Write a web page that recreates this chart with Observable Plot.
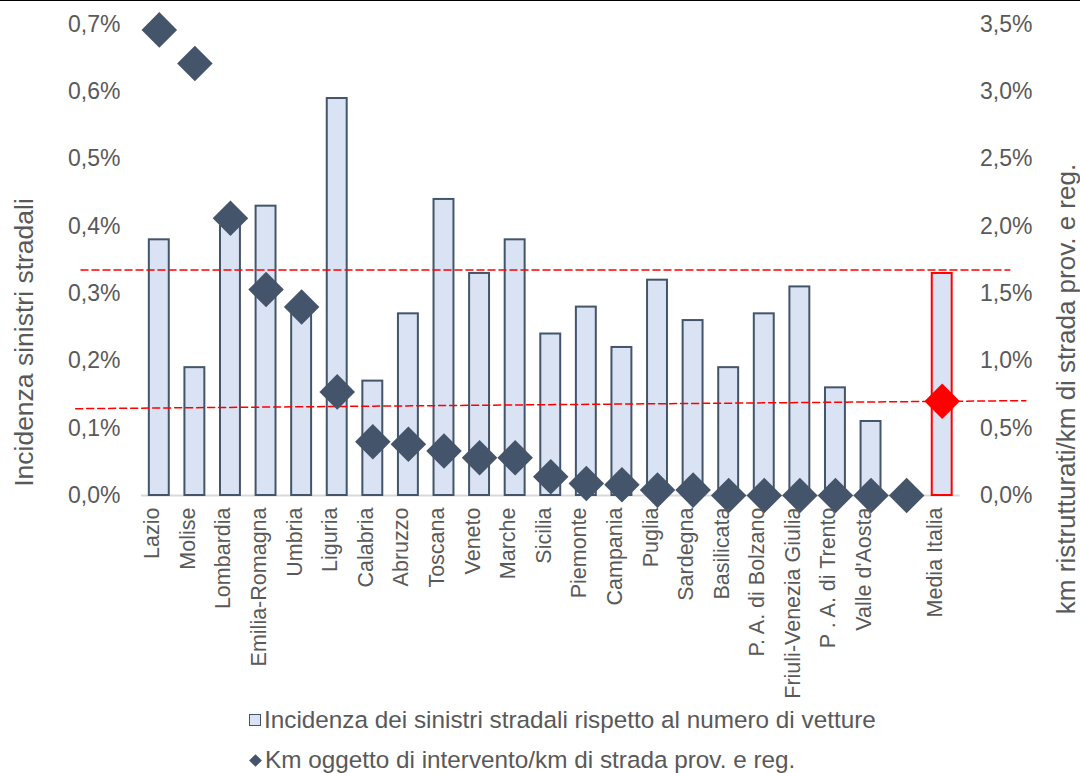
<!DOCTYPE html>
<html>
<head>
<meta charset="utf-8">
<script src="https://cdn.jsdelivr.net/npm/d3@7"></script>
<script src="https://cdn.jsdelivr.net/npm/@observablehq/plot@0.6"></script>
<style>
  body { margin: 0; background: #fff; font-family: "Liberation Sans", Arial, sans-serif; }
  #wrap { position: relative; width: 1080px; height: 773px; overflow: hidden; background: #fff; }
  #topline { position: absolute; left: 0; top: 0; width: 1080px; height: 1px; background: #000; z-index: 5; }
  .legend { position: absolute; left: 249px; height: 30px; line-height: 30px; color: #595959; font-size: 24.3px; display: flex; align-items: center; white-space: nowrap; }
  .sq { display: inline-block; width: 10px; height: 10px; background: #dae3f3; border: 1.5px solid #44546a; margin-right: 3px; }
  .dm { display: inline-block; width: 9px; height: 9px; background: #44546a; transform: rotate(45deg); margin: 0 5px 0 2px; }
</style>
</head>
<body>
<div id="wrap">
  <div id="topline"></div>
  <div id="chart"></div>
  <div class="legend" style="top:705px"><span class="sq"></span>Incidenza dei sinistri stradali rispetto al numero di vetture</div>
  <div class="legend" style="top:745px"><span class="dm"></span>Km oggetto di intervento/km di strada prov. e reg.</div>
</div>
<script>
// ---- data ----
const regions = ["Lazio", "Molise", "Lombardia", "Emilia-Romagna", "Umbria", "Liguria", "Calabria", "Abruzzo",
  "Toscana", "Veneto", "Marche", "Sicilia", "Piemonte", "Campania", "Puglia", "Sardegna", "Basilicata",
  "P. A. di Bolzano", "Friuli-Venezia Giulia", "P . A. di Trento", "Valle d'Aosta", "", "Media Italia"];
// left axis (%): incidenza dei sinistri stradali rispetto al numero di vetture
const incidenza = [0.38, 0.19, 0.40, 0.43, 0.28, 0.59, 0.17, 0.27, 0.44, 0.33, 0.38, 0.24, 0.28, 0.22,
  0.32, 0.26, 0.19, 0.27, 0.31, 0.16, 0.11, null, 0.33];
// right axis (%): km oggetto di intervento / km di strada prov. e reg.
const kmIntervento = [3.46, 3.21, 2.06, 1.53, 1.40, 0.77, 0.40, 0.38, 0.33, 0.28, 0.28, 0.14, 0.09, 0.08,
  0.04, 0.04, 0, 0, 0, 0, 0, 0, 0.70];
const highlight = "Media Italia";
const leftTicks = [0, 0.1, 0.2, 0.3, 0.4, 0.5, 0.6, 0.7];
const rightTicks = [0, 0.5, 1.0, 1.5, 2.0, 2.5, 3.0, 3.5];
// red dashed reference lines (x in category slots, y in axis %)
const refUpperX = [-2.2, 23.9];
const refUpperLeft = [0.335, 0.335];
const refLowerX = [-2.35, 24.35];
const refLowerRight = [0.645, 0.705];

// ---- build ----
const ratio = rightTicks[rightTicks.length - 1] / leftTicks[leftTicks.length - 1];
const fmt = v => v.toFixed(1).replace(".", ",") + "%";
const rows = regions.map((name, i) => ({ i, name, v: incidenza[i], k: kmIntervento[i] }));
const bars = rows.filter(d => d.v != null && d.name !== highlight);
const barsHi = rows.filter(d => d.v != null && d.name === highlight);
const dots = rows.filter(d => d.name !== highlight);
const dotsHi = rows.filter(d => d.name === highlight);
const upper = refUpperX.map((x, j) => ({ x, y: refUpperLeft[j] }));
const lower = refLowerX.map((x, j) => ({ x, y: refLowerRight[j] / ratio }));
const half = 0.28;
const grey = "#595959";

const chart = Plot.plot({
  width: 1080,
  height: 705,
  marginTop: 24,
  marginBottom: 210,
  marginLeft: 141,
  marginRight: 120.5,
  x: { type: "linear", domain: [-0.5, regions.length - 0.5], axis: null },
  y: { domain: [0, leftTicks[leftTicks.length - 1]], axis: null },
  style: { fontFamily: "'Liberation Sans', Arial, sans-serif", color: grey, background: "transparent", overflow: "visible" },
  marks: [
    Plot.ruleY([0], { stroke: "#d9d9d9", strokeWidth: 2 }),
    Plot.rectY(bars, { x1: d => d.i - half, x2: d => d.i + half, y1: 0, y2: "v", fill: "#dae3f3", stroke: "#44546a", strokeWidth: 2 }),
    Plot.rectY(barsHi, { x1: d => d.i - half, x2: d => d.i + half, y1: 0, y2: "v", fill: "#dae3f3", stroke: "#ff0000", strokeWidth: 2 }),
    Plot.line(upper, { x: "x", y: "y", stroke: "#ff0000", strokeWidth: 1.5, strokeDasharray: "7,4" }),
    Plot.line(lower, { x: "x", y: "y", stroke: "#ff0000", strokeWidth: 1.5, strokeDasharray: "7,4" }),
    Plot.dot(dots, { x: "i", y: d => d.k / ratio, symbol: "diamond2", r: 16, fill: "#44546a", stroke: null }),
    Plot.dot(dotsHi, { x: "i", y: d => d.k / ratio, symbol: "diamond2", r: 16, fill: "#ff0000", stroke: null }),
    Plot.axisY(leftTicks, { anchor: "left", tickSize: 0, tickPadding: 21, tickFormat: fmt, fontSize: 23, label: null }),
    Plot.axisY(rightTicks.map(t => t / ratio), { anchor: "right", tickSize: 0, tickPadding: 20, tickFormat: t => fmt(t * ratio), fontSize: 23, label: null }),
    Plot.text(rows, { x: "i", text: "name", frameAnchor: "bottom", rotate: -90, textAnchor: "end", dy: 12, fontSize: 21.5, fill: grey }),
    Plot.text(["Incidenza sinistri stradali"], { frameAnchor: "left", textAnchor: "middle", rotate: -90, dx: -117, dy: 82.5, fontSize: 26.5, fill: grey }),
    Plot.text(["km ristrutturati/km di strada prov. e reg."], { frameAnchor: "right", textAnchor: "middle", rotate: -90, dx: 106.5, dy: 129, fontSize: 26, fill: grey })
  ]
});
document.getElementById("chart").appendChild(chart);
</script>
</body>
</html>
